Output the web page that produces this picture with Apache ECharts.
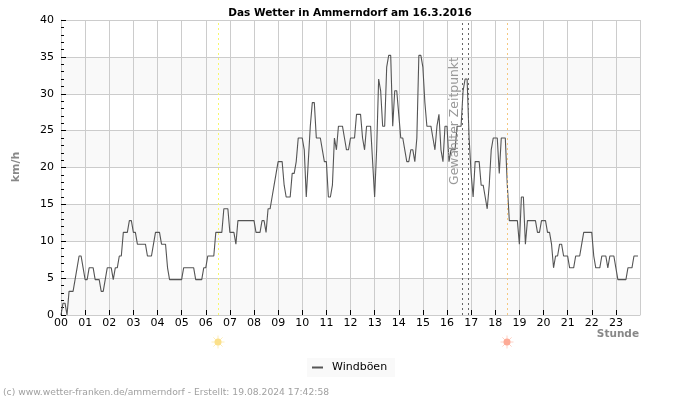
<!DOCTYPE html>
<html>
<head>
<meta charset="utf-8">
<title>Das Wetter in Ammerndorf</title>
<script src="https://cdn.jsdelivr.net/npm/echarts@6/dist/echarts.min.js"></script>
<style>
  html, body { margin: 0; padding: 0; background: #fff; }
  #main { width: 700px; height: 400px; }
</style>
</head>
<body>
<div id="main"></div>
<script>
  const hourLabels = ['00', '01', '02', '03', '04', '05', '06', '07', '08', '09', '10', '11',
    '12', '13', '14', '15', '16', '17', '18', '19', '20', '21', '22', '23']

  // km/h, one value every 5 minutes, one row per hour
  const gustValues = [
    0, 1.6, 1.6, 0, 3.2, 3.2, 3.2, 4.8, 6.4, 8, 8, 6.4,
    4.8, 4.8, 6.4, 6.4, 6.4, 4.8, 4.8, 4.8, 3.2, 3.2, 4.8, 6.4,
    6.4, 6.4, 4.8, 6.4, 6.4, 8, 8, 11.2, 11.2, 11.2, 12.8, 12.8,
    11.2, 11.2, 9.6, 9.6, 9.6, 9.6, 9.6, 8, 8, 8, 9.6, 11.2,
    11.2, 11.2, 9.6, 9.6, 9.6, 6.4, 4.8, 4.8, 4.8, 4.8, 4.8, 4.8,
    4.8, 6.4, 6.4, 6.4, 6.4, 6.4, 6.4, 4.8, 4.8, 4.8, 4.8, 6.4,
    6.4, 8, 8, 8, 8, 11.2, 11.2, 11.2, 11.2, 14.4, 14.4, 14.4,
    11.2, 11.2, 11.2, 9.6, 12.8, 12.8, 12.8, 12.8, 12.8, 12.8, 12.8, 12.8,
    12.8, 11.2, 11.2, 11.2, 12.8, 12.8, 11.2, 14.4, 14.4, 16, 17.6, 19.2,
    20.8, 20.8, 20.8, 17.6, 16, 16, 16, 19.2, 19.2, 20.8, 24, 24,
    24, 22.4, 16, 20.8, 25.6, 28.8, 28.8, 24, 24, 24, 22.4, 20.8,
    20.8, 16, 16, 17.6, 24, 22.4, 25.6, 25.6, 25.6, 24, 22.4, 22.4,
    24, 24, 24, 27.2, 27.2, 27.2, 24, 22.4, 25.6, 25.6, 25.6, 20.8,
    16, 22.4, 32, 30.4, 25.6, 25.6, 33.6, 35.2, 35.2, 25.6, 30.4, 30.4,
    27.2, 24, 24, 22.4, 20.8, 20.8, 22.4, 22.4, 20.8, 24, 35.2, 35.2,
    33.6, 28.8, 25.6, 25.6, 25.6, 24, 22.4, 25.6, 27.2, 22.4, 20.8, 25.6,
    25.6, 20.8, 22.4, 22.4, 22.4, 25.6, 25.6, 25.6, 30.4, 32, 32, 24,
    19.2, 16, 20.8, 20.8, 20.8, 17.6, 17.6, 16, 14.4, 17.6, 22.4, 24,
    24, 24, 19.2, 24, 24, 24, 17.6, 12.8, 12.8, 12.8, 12.8, 12.8,
    9.6, 16, 16, 9.6, 12.8, 12.8, 12.8, 12.8, 12.8, 11.2, 11.2, 12.8,
    12.8, 12.8, 11.2, 11.2, 9.6, 6.4, 8, 8, 9.6, 9.6, 8, 8,
    8, 6.4, 6.4, 6.4, 8, 8, 8, 9.6, 11.2, 11.2, 11.2, 11.2,
    11.2, 8, 6.4, 6.4, 6.4, 8, 8, 8, 6.4, 8, 8, 8,
    6.4, 4.8, 4.8, 4.8, 4.8, 4.8, 6.4, 6.4, 6.4, 8, 8, 8,
  ]

  const sunriseHour = 6.5
  const sunsetHour = 18.5
  const selectedHours = [16.63, 16.87]

  const fontFamily = '"DejaVu Sans", sans-serif'
  const points = gustValues.map((v, i) => [i / 12, v])

  // little sun: disc with eight short rays
  function sunIcon(x, y, color, rayColor) {
    const rays = []
    for (let i = 0; i < 8; i++) {
      const a = (i * Math.PI) / 4
      rays.push({
        type: 'line',
        shape: {
          x1: x + Math.cos(a) * 3,
          y1: y + Math.sin(a) * 3,
          x2: x + Math.cos(a) * 6.5,
          y2: y + Math.sin(a) * 6.5,
        },
        style: { stroke: rayColor, lineWidth: 1 },
      })
    }
    return {
      type: 'group',
      silent: true,
      children: rays.concat([
        { type: 'circle', shape: { cx: x, cy: y, r: 3.5 }, style: { fill: color } },
      ]),
    }
  }

  const chart = echarts.init(document.getElementById('main'))

  chart.setOption({
    animation: false,
    backgroundColor: '#fff',
    textStyle: { fontFamily },
    title: {
      text: 'Das Wetter in Ammerndorf am 16.3.2016',
      left: 'center',
      top: 3,
      textStyle: { fontFamily, fontSize: 10.5, fontWeight: 'bold', color: '#000' },
    },
    legend: {
      left: 307,
      top: 358,
      padding: [4, 8, 4, 5],
      backgroundColor: '#f9f9f9',
      icon: 'rect',
      itemWidth: 11,
      itemHeight: 2,
      itemGap: 0,
      textStyle: { fontFamily, fontSize: 11, color: '#000', padding: [0, 0, 0, 4] },
      data: ['Windböen'],
    },
    grid: { left: 61, right: 60, top: 20, bottom: 85 },
    xAxis: {
      type: 'value',
      min: 0,
      max: 24,
      interval: 1,
      axisLine: { lineStyle: { color: '#ccc', width: 1 } },
      axisTick: { inside: true, length: 5, lineStyle: { color: '#000', width: 1 } },
      axisLabel: {
        color: '#000',
        fontSize: 11,
        margin: 3,
        showMaxLabel: false,
        formatter: (v) => hourLabels[v] || '',
      },
      splitLine: { show: true, lineStyle: { color: '#ccc', width: 1 } },
    },
    yAxis: {
      type: 'value',
      min: 0,
      max: 40,
      interval: 5,
      axisLine: { show: true, lineStyle: { color: '#ccc', width: 1 } },
      axisTick: { show: true, inside: true, length: 5, lineStyle: { color: '#000', width: 1 } },
      minorTick: { show: true, splitNumber: 5, length: 3, lineStyle: { color: '#000', width: 1 } },
      axisLabel: { color: '#000', fontSize: 11, margin: 7 },
      splitLine: { show: true, lineStyle: { color: '#ccc', width: 1 } },
      splitArea: { show: true, areaStyle: { color: ['#f9f9f9', '#fff'] } },
    },
    series: [
      {
        name: 'Windböen',
        type: 'line',
        data: points,
        showSymbol: false,
        itemStyle: { color: '#555' },
        lineStyle: { color: '#555', width: 1.1 },
        markLine: {
          silent: true,
          symbol: 'none',
          label: { show: false },
          data: [
            { xAxis: sunriseHour, lineStyle: { color: '#f7f76a', type: [2, 3], width: 1 } },
            { xAxis: sunsetHour, lineStyle: { color: '#f5c880', type: [2, 3], width: 1 } },
            { xAxis: selectedHours[0], lineStyle: { color: '#666', type: [2, 3], width: 1 } },
            { xAxis: selectedHours[1], lineStyle: { color: '#666', type: [2, 3], width: 1 } },
          ],
        },
      },
    ],
    graphic: [
      {
        type: 'text',
        x: 455,
        y: 121,
        z: 10,
        rotation: Math.PI / 2,
        silent: true,
        style: {
          text: 'Gewählter Zeitpunkt',
          fontFamily,
          fontSize: 12.4,
          fill: '#999',
          align: 'center',
          verticalAlign: 'middle',
        },
      },
      {
        type: 'text',
        x: 16,
        y: 167,
        rotation: Math.PI / 2,
        silent: true,
        style: {
          text: 'km/h',
          fontFamily,
          fontSize: 11,
          fontWeight: 'bold',
          fill: '#888',
          align: 'center',
          verticalAlign: 'middle',
        },
      },
      {
        type: 'text',
        x: 639,
        y: 334,
        silent: true,
        style: {
          text: 'Stunde',
          fontFamily,
          fontSize: 10.5,
          fontWeight: 'bold',
          fill: '#888',
          align: 'right',
          verticalAlign: 'middle',
        },
      },
      {
        type: 'text',
        x: 3,
        y: 393,
        silent: true,
        style: {
          text: '(c) www.wetter-franken.de/ammerndorf - Erstellt: 19.08.2024 17:42:58',
          fontFamily,
          fontSize: 9.2,
          fill: '#a0a0a0',
          align: 'left',
          verticalAlign: 'middle',
        },
      },
      sunIcon(218, 342, '#fbe08a', '#fdeebc'),
      sunIcon(507, 342, '#fdaa96', '#fed2c6'),
    ],
  })
</script>
</body>
</html>
